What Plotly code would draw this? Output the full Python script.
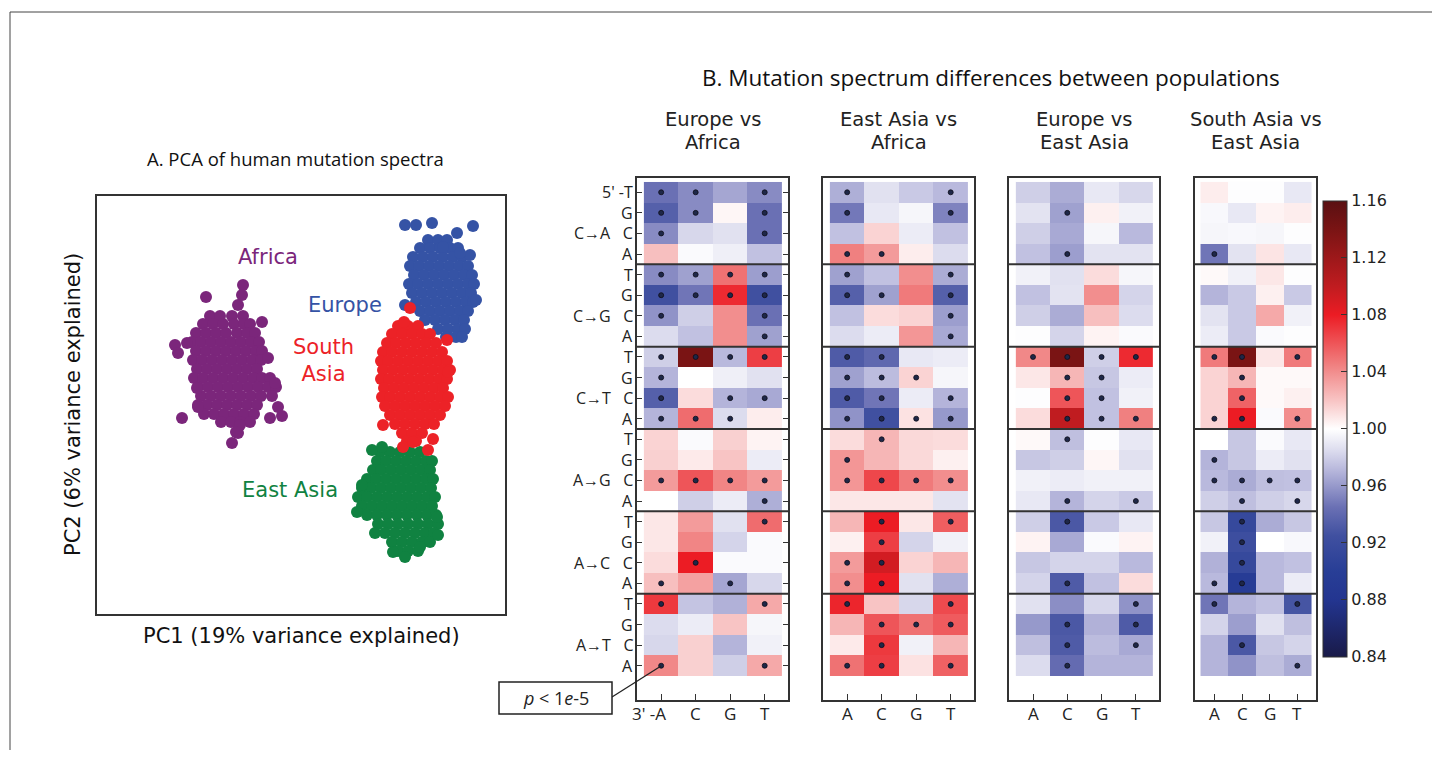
import plotly.graph_objects as go

W, H = 1432, 762
def fx(p): return p / W
def fy(p): return 1 - p / H

# ---------------- PCA scatter data (PC1, PC2 in plot units) ----------------
africa_rows = [
    (316, [210, 220, 232, 243]),
    (324, [203, 213, 223, 234, 244, 250]),
    (333, [196, 206, 216, 226, 237, 247, 255]),
    (342, [192, 201, 211, 221, 231, 241, 251, 259]),
    (351, [196, 206, 216, 226, 236, 246, 256, 262]),
    (360, [193, 202, 212, 222, 232, 242, 252, 261]),
    (369, [197, 207, 217, 227, 237, 247, 257]),
    (378, [194, 203, 213, 223, 233, 243, 253, 262, 270]),
    (387, [198, 208, 218, 228, 238, 248, 258, 268, 276]),
    (396, [201, 211, 221, 231, 241, 251, 261, 272]),
    (405, [198, 207, 217, 227, 237, 247, 257]),
    (414, [204, 214, 224, 234, 244, 254]),
    (422, [221, 231, 240, 250]),
]
africa_extra = [(175, 345), (178, 353), (187, 343), (182, 418), (232, 443), (238, 433),
                (243, 285), (242, 295), (238, 305), (206, 297), (262, 322), (268, 358),
                (275, 383), (278, 407), (282, 416), (270, 418), (198, 407), (197, 388),
                (240, 425), (236, 432)]

europe_rows = [
    (240, [428, 438, 447]),
    (248, [420, 430, 440, 450, 458]),
    (257, [413, 423, 433, 443, 453, 462]),
    (266, [410, 419, 429, 439, 449, 459, 468]),
    (275, [414, 424, 434, 444, 454, 464, 472]),
    (284, [409, 418, 428, 438, 448, 458, 468, 474]),
    (293, [412, 422, 432, 442, 452, 462, 471]),
    (302, [416, 426, 436, 446, 456, 466, 473]),
    (311, [420, 430, 440, 450, 460, 468]),
    (320, [425, 435, 445, 455, 464]),
    (329, [438, 448, 458, 465]),
    (337, [446, 456, 462]),
]
europe_extra = [(405, 225), (416, 225), (432, 223), (457, 233), (473, 226), (443, 247),
                (405, 305), (470, 255), (476, 300), (460, 253)]

south_asia_rows = [
    (326, [398, 408, 418]),
    (334, [392, 402, 412, 422, 430]),
    (343, [387, 396, 406, 416, 426, 436]),
    (352, [383, 392, 402, 412, 422, 432, 442]),
    (361, [381, 388, 398, 408, 418, 428, 438, 447]),
    (370, [383, 393, 403, 413, 423, 433, 443, 450]),
    (379, [381, 389, 399, 409, 419, 429, 439, 447]),
    (388, [384, 394, 404, 414, 424, 434, 443]),
    (397, [382, 390, 400, 410, 420, 430, 440, 448]),
    (406, [385, 395, 405, 415, 425, 435, 445]),
    (415, [390, 400, 410, 420, 430, 440]),
    (424, [395, 405, 415, 425, 434]),
    (433, [402, 412, 422]),
    (441, [407, 416]),
]
south_asia_extra = [(410, 308), (404, 322), (447, 340), (448, 372), (433, 439), (428, 450),
                    (383, 425), (403, 447), (413, 442)]

east_asia_rows = [
    (452, [380, 390, 400, 410, 420]),
    (461, [377, 386, 396, 406, 416, 426, 432]),
    (470, [373, 381, 391, 401, 411, 421, 430]),
    (479, [367, 376, 386, 396, 406, 416, 426, 433]),
    (488, [362, 371, 381, 391, 401, 411, 421, 431]),
    (497, [358, 367, 377, 387, 397, 407, 417, 427, 435]),
    (506, [362, 372, 382, 392, 402, 412, 422, 432]),
    (515, [367, 377, 387, 397, 407, 417, 427, 436]),
    (524, [378, 388, 398, 408, 418, 428, 438]),
    (533, [385, 395, 405, 415, 425, 434]),
    (542, [392, 402, 412, 422, 430]),
    (551, [398, 408, 418]),
]
east_asia_extra = [(375, 533), (357, 512), (362, 485), (437, 517), (438, 535), (405, 557),
                   (393, 552), (420, 547), (372, 450), (382, 447)]

# ---------------- Mutation spectrum ratio data ----------------
row_bases = ["T", "G", "C", "A"]
mut_types = ["C→A", "C→G", "C→T", "A→G", "A→C", "A→T"]
col_bases = ["A", "C", "G", "T"]

eu_af = [
    [0.945, 0.955, 0.965, 0.955], [0.935, 0.955, 1.003, 0.945], [0.955, 0.983, 0.987, 0.945], [1.022, 0.998, 0.993, 0.975],
    [0.955, 0.963, 1.050, 0.962], [0.925, 0.947, 1.075, 0.925], [0.958, 0.980, 1.040, 0.945], [0.985, 0.975, 1.040, 0.963],
    [0.980, 1.140, 0.972, 1.068], [0.970, 1.000, 0.993, 0.987], [0.935, 1.012, 0.970, 0.966], [0.970, 1.052, 0.985, 1.006],
    [1.015, 0.998, 1.016, 1.004], [1.016, 1.007, 1.020, 0.992], [1.035, 1.060, 1.043, 1.035], [1.000, 0.980, 0.992, 0.968],
    [1.008, 1.035, 0.987, 1.052], [1.008, 1.043, 0.982, 0.998], [1.012, 1.080, 0.998, 0.998], [1.022, 1.033, 0.965, 0.983],
    [1.070, 0.976, 0.969, 1.030], [0.985, 0.992, 1.020, 0.996], [0.983, 1.016, 0.970, 0.994], [1.042, 1.016, 0.980, 1.030],
]
ea_af = [
    [0.968, 0.987, 0.978, 0.972], [0.948, 0.990, 0.996, 0.952], [0.975, 1.015, 0.992, 0.975], [1.045, 1.035, 1.006, 0.985],
    [0.963, 0.975, 1.040, 0.967], [0.935, 0.963, 1.047, 0.935], [0.975, 1.012, 1.015, 0.962], [0.985, 0.992, 1.037, 0.966],
    [0.932, 0.940, 0.990, 0.992], [0.963, 0.973, 1.015, 0.996], [0.932, 0.947, 0.992, 0.970], [0.958, 0.925, 1.010, 0.960],
    [1.012, 1.025, 1.013, 1.012], [1.037, 1.025, 1.013, 1.005], [1.037, 1.065, 1.047, 1.040], [1.008, 1.008, 1.008, 0.988],
    [1.025, 1.080, 1.008, 1.057], [1.005, 1.068, 0.982, 0.994], [1.035, 1.092, 1.015, 1.025], [1.040, 1.080, 0.987, 0.968],
    [1.077, 1.020, 0.983, 1.064], [1.025, 1.060, 1.050, 1.058], [1.007, 1.070, 0.994, 1.025], [1.050, 1.068, 1.010, 1.056],
]
eu_ea = [
    [0.980, 0.967, 0.990, 0.983], [0.988, 0.963, 1.005, 0.994], [0.980, 0.966, 0.996, 0.972], [0.975, 0.962, 0.988, 0.988],
    [0.994, 0.987, 1.012, 0.996], [0.975, 0.988, 1.040, 0.982], [0.980, 0.967, 1.022, 0.985], [0.999, 0.982, 1.004, 0.998],
    [1.042, 1.140, 0.980, 1.075], [1.008, 1.025, 0.977, 0.992], [0.999, 1.060, 0.975, 0.994], [1.012, 1.100, 0.975, 1.045],
    [1.002, 0.974, 0.999, 0.990], [0.977, 0.980, 1.003, 0.987], [0.994, 0.992, 0.994, 0.994], [0.990, 0.970, 0.982, 0.978],
    [0.980, 0.930, 0.978, 0.990], [1.004, 0.966, 0.998, 1.004], [0.977, 0.982, 0.982, 0.972], [0.982, 0.932, 0.975, 1.012],
    [0.987, 0.956, 0.983, 0.958], [0.960, 0.930, 0.969, 0.932], [0.974, 0.932, 0.973, 0.966], [0.985, 0.942, 0.970, 0.970],
]
sa_ea = [
    [1.006, 0.999, 0.999, 0.990], [0.997, 0.990, 1.004, 1.006], [0.996, 0.997, 0.996, 0.999], [0.947, 0.988, 1.009, 0.990],
    [1.002, 0.994, 1.008, 0.999], [0.970, 0.978, 1.005, 0.978], [0.988, 0.978, 1.030, 0.994], [0.992, 0.978, 0.998, 0.999],
    [1.047, 1.140, 1.008, 1.047], [1.015, 1.025, 1.002, 1.002], [1.015, 1.055, 1.002, 1.005], [1.015, 1.080, 0.998, 1.040],
    [1.000, 0.977, 0.998, 0.990], [0.970, 0.977, 0.992, 0.987], [0.972, 0.967, 0.974, 0.975], [0.980, 0.974, 0.980, 0.983],
    [0.977, 0.915, 0.967, 0.977], [0.994, 0.922, 1.000, 0.997], [0.969, 0.915, 0.972, 0.975], [0.972, 0.895, 0.972, 0.992],
    [0.947, 0.970, 0.975, 0.928], [0.982, 0.962, 0.987, 0.974], [0.970, 0.930, 0.977, 0.982], [0.970, 0.958, 0.974, 0.967],
]

# significance (p < 1e-5) per row, columns A C G T
eu_af_sig = ["1101", "1101", "1001", "0000", "1111", "1111", "1001", "0001", "1111", "1000", "1011", "1110",
             "0000", "0000", "1111", "0001", "0001", "0000", "0100", "1010", "1001", "0000", "0000", "1001"]
ea_af_sig = ["1001", "1001", "0000", "1100", "1001", "1101", "0001", "0001", "1100", "1110", "1101", "1111",
             "0100", "1000", "1111", "0000", "0101", "0100", "1100", "1100", "1001", "0111", "0100", "1101"]
eu_ea_sig = ["0000", "0100", "0000", "0100", "0000", "0000", "0000", "0000", "1111", "0110", "0110", "0111",
             "0100", "0000", "0000", "0101", "0100", "0000", "0000", "0100", "0001", "0101", "0101", "0100"]
sa_ea_sig = ["0000", "0000", "0000", "1000", "0000", "0000", "0000", "0000", "1101", "0100", "0100", "1101",
             "0000", "1000", "1111", "0101", "0100", "0100", "0100", "1100", "1001", "0000", "0100", "0001"]

colorbar_ticks = [0.84, 0.88, 0.92, 0.96, 1.00, 1.04, 1.08, 1.12, 1.16]

# ---------------- figure ----------------
ZMIN, ZMAX = 0.84, 1.16
cs_vals = [0.84, 0.88, 0.90, 0.925, 0.945, 0.97, 0.985, 1.0, 1.02, 1.045, 1.08, 1.10, 1.14, 1.16]
cs_cols = ['#191a48', '#233590', '#283e96', '#4050a0', '#6a70b4', '#b4b4da', '#dcdcee', '#ffffff',
           '#f8c4c4', '#f08080', '#ec1c24', '#c01c20', '#7a1414', '#5a1012']
colorscale = [[(v - ZMIN) / (ZMAX - ZMIN), c] for v, c in zip(cs_vals, cs_cols)]

fig = go.Figure()

def flatten(rows, extra):
    xs, ys = [], []
    for y, xl in rows:
        for x in xl:
            xs.append(x); ys.append(y)
    for x, y in extra:
        xs.append(x); ys.append(y)
    return xs, ys

clusters = [
    ("Africa", africa_rows, africa_extra, '#7b267b'),
    ("East Asia", east_asia_rows, east_asia_extra, '#108241'),
    ("Europe", europe_rows, europe_extra, '#3553a5'),
    ("South Asia", south_asia_rows, south_asia_extra, '#ec2227'),
]
for name, rows, extra, col in clusters:
    xs, ys = flatten(rows, extra)
    fig.add_trace(go.Scatter(x=xs, y=ys, mode='markers', name=name,
                             marker=dict(size=12, color=col, line=dict(width=0)),
                             xaxis='x', yaxis='y', showlegend=False, hoverinfo='skip'))

layout = dict(
    width=W, height=H, autosize=False,
    margin=dict(l=0, r=0, t=0, b=0),
    paper_bgcolor='white', plot_bgcolor='white',
    font=dict(family='DejaVu Sans', color='#222'),
    showlegend=False,
    xaxis=dict(domain=[fx(97), fx(505)], range=[97, 505], showline=True, mirror=True,
               linecolor='#333', linewidth=2, showticklabels=False, ticks='', showgrid=False,
               zeroline=False, anchor='y'),
    yaxis=dict(domain=[fy(614), fy(196)], range=[614, 196], showline=True, mirror=True,
               linecolor='#333', linewidth=2, showticklabels=False, ticks='', showgrid=False,
               zeroline=False, anchor='x'),
)

annotations = []
shapes = []

def ann(text, x, y, xref='paper', yref='paper', xanchor='center', yanchor='middle', **kw):
    d = dict(text=text, x=x, y=y, xref=xref, yref=yref, xanchor=xanchor, yanchor=yanchor, showarrow=False)
    d.update(kw)
    annotations.append(d)

# cluster labels
for txt, x, y, col in [("Africa", 268, 257, '#7b267b'), ("Europe", 345, 305, '#3553a5'),
                       ("South<br>Asia", 323, 360, '#ec2227'), ("East Asia", 290, 490, '#108241')]:
    ann(txt, x, y, xref='x', yref='y', font=dict(size=21, color=col, family='DejaVu Sans'), align='center')

ann("A. PCA of human mutation spectra", fx(295), fy(158), font=dict(size=18.5, family='Open Sans', color='#111'))
ann("PC1 (19% variance explained)", fx(301), fy(636), font=dict(size=21, color='#111'))
ann("PC2 (6% variance explained)", fx(73), fy(405), textangle=-90, font=dict(size=21, color='#111'))
ann("B. Mutation spectrum differences between populations", fx(991), fy(77),
    font=dict(size=22.5, family='Open Sans', color='#111'))

panels = [
    (("Europe vs", "Africa"), eu_af, eu_af_sig, 637, 788),
    (("East Asia vs", "Africa"), ea_af, ea_af_sig, 823, 974),
    (("Europe vs", "East Asia"), eu_ea, eu_ea_sig, 1009, 1159),
    (("South Asia vs", "East Asia"), sa_ea, sa_ea_sig, 1195, 1316),
]
FT, FB = 178, 700
nrows = len(eu_af)
for i, (title, vals, sig, L, R) in enumerate(panels):
    k = i + 2
    xa, ya = f'x{k}', f'y{k}'
    fig.add_trace(go.Heatmap(
        z=vals, x=list(range(4)), y=list(range(nrows)), colorscale=colorscale, zmin=ZMIN, zmax=ZMAX,
        xaxis=xa, yaxis=ya, hoverinfo='skip', showscale=(i == 0),
        colorbar=dict(x=fx(1323), xanchor='left', xpad=0, ypad=0, y=fy(428.7), yanchor='middle',
                      lenmode='pixels', len=456, thicknessmode='pixels', thickness=24,
                      outlinewidth=1, outlinecolor='#333', ticks='inside', ticklen=6, tickcolor='#333',
                      tickvals=colorbar_ticks, ticktext=[f"{t:.2f}" for t in colorbar_ticks],
                      tickfont=dict(size=16, color='#222', family='DejaVu Sans'))))
    dx, dy = [], []
    for r, s in enumerate(sig):
        for c, ch in enumerate(s):
            if ch == '1':
                dx.append(c); dy.append(r)
    fig.add_trace(go.Scatter(x=dx, y=dy, mode='markers', xaxis=xa, yaxis=ya, hoverinfo='skip',
                             marker=dict(size=5, color='#1e2748', line=dict(width=0.8, color='#0c0c18')),
                             showlegend=False))
    layout[f'xaxis{k}'] = dict(domain=[fx(L), fx(R)], range=[-0.7, 3.675], anchor=ya, showline=True,
                               mirror=True, linecolor='#333', linewidth=2, ticks='inside', ticklen=6,
                               tickcolor='#333', tickvals=[0, 1, 2, 3], showticklabels=False,
                               showgrid=False, zeroline=False)
    layout[f'yaxis{k}'] = dict(domain=[fy(FB), fy(FT)], range=[24.665, -0.694], anchor=xa, showline=True,
                               mirror=('ticks' if i == 0 else True), linecolor='#333', linewidth=2,
                               ticks=('inside' if i == 0 else ''), ticklen=5, tickcolor='#333',
                               tickvals=list(range(nrows)), showticklabels=False,
                               showgrid=False, zeroline=False)
    for g in range(1, 6):
        shapes.append(dict(type='line', xref=f'{xa} domain', yref=ya, x0=0, x1=1, y0=4 * g - 0.5,
                           y1=4 * g - 0.5, line=dict(color='#333', width=2)))
    cx = fx((L + R) / 2)
    ann(title[0], cx, fy(119), font=dict(size=19.5, color='#222'))
    ann(title[1], cx, fy(142), font=dict(size=19.5, color='#222'))
    for c, b in enumerate(col_bases):
        if i == 0 and c == 0:
            ann("3' -A", c, fy(713), xref=xa, xanchor='right', xshift=7,
                font=dict(size=17, family='Open Sans', color='#222'))
        else:
            ann(b, c, fy(713), xref=xa, font=dict(size=17, family='Open Sans', color='#222'))

# row labels on the first panel (mutation type label joined with its middle row letter)
for r in range(nrows):
    lab = row_bases[r % 4]
    if r == 0:
        lab = "5' -T"
    if r % 4 == 2:
        lab = mut_types[r // 4] + "\u00a0\u00a0\u00a0" + lab
    ann(lab, fx(634), r, yref='y2', xanchor='right', borderpad=0,
        font=dict(size=16, family='Open Sans', color='#222'))

# callout
shapes.append(dict(type='line', xref='paper', yref='paper', x0=fx(612), y0=fy(697), x1=fx(661), y1=fy(666),
                   line=dict(color='#222', width=1.3)))
shapes.append(dict(type='rect', xref='paper', yref='paper', x0=fx(499), y0=fy(714), x1=fx(612), y1=fy(682),
                   fillcolor='white', line=dict(color='#222', width=1.5)))
ann("<i>p</i> < 1<i>e</i>-5", fx(555.5), fy(698), font=dict(size=18, family='Open Sans', color='#222'))

# outer border
shapes.append(dict(type='line', xref='paper', yref='paper', x0=fx(10), x1=1, y0=fy(12), y1=fy(12),
                   line=dict(color='#444', width=1)))
shapes.append(dict(type='line', xref='paper', yref='paper', x0=fx(10), x1=fx(10), y0=fy(12), y1=fy(750),
                   line=dict(color='#444', width=1)))

layout['annotations'] = annotations
layout['shapes'] = shapes
fig.update_layout(**layout)

fig.write_html("out.html", config={'displayModeBar': False},
               post_script="document.body.style.margin='0';")
